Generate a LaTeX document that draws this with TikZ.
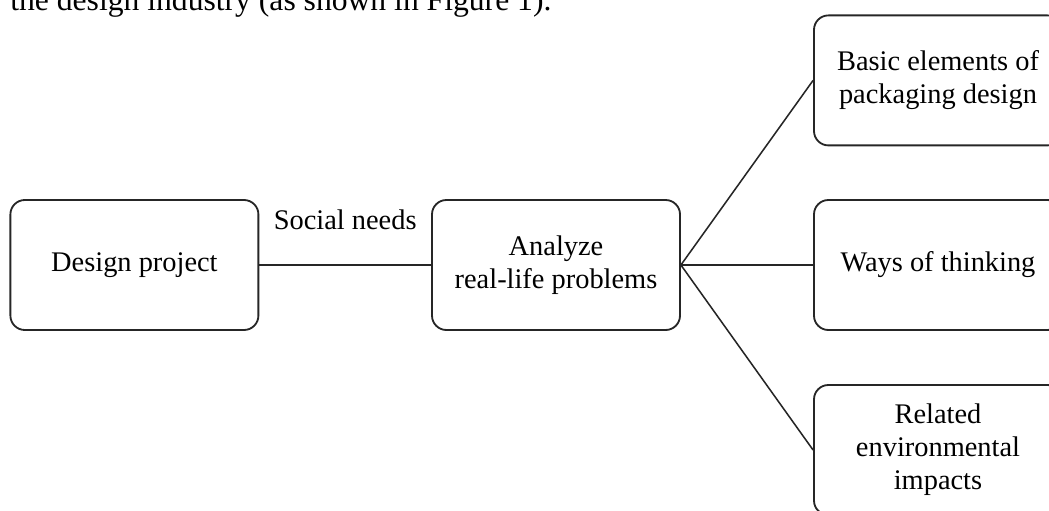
\documentclass[tikz,border=0pt]{standalone}
\usepackage{fontspec}
\setmainfont{Liberation Serif}
\usepackage{tikz}

\begin{document}
\begin{tikzpicture}[
  box/.style={draw=black!85,line width=1.3pt,rounded corners=0.36cm,minimum width=6.2cm,minimum height=3.25cm,align=center,font=\fontsize{20.2}{23.5}\selectfont},
  link/.style={draw=black!85,line width=1.1pt}]
\clip (0cm,0cm) rectangle (26.225cm,-12.75cm);
\node[anchor=base west,inner sep=0pt,font=\fontsize{22.5}{27}\selectfont] (intro) at (0.25cm,-0.26cm) {the design industry (as shown in Figure 1).};
\node[box] (design) at (3.36cm,-6.625cm) {Design project};
\node[box] (analyze) at (13.9cm,-6.625cm) {Analyze\\real-life problems};
\node[box] (basic) at (23.45cm,-2.01cm) {Basic elements of\\packaging design};
\node[box] (ways) at (23.45cm,-6.625cm) {Ways of thinking};
\node[box] (related) at (23.45cm,-11.25cm) {Related\\environmental\\impacts};
\draw[link] (design) -- node[above=0.85cm,inner sep=0pt,font=\fontsize{20.2}{23.5}\selectfont] {Social needs} (analyze);
\draw[link] (analyze.east) -- (basic.west);
\draw[link] (analyze.east) -- (ways.west);
\draw[link] (analyze.east) -- (related.west);
\end{tikzpicture}
\end{document}
